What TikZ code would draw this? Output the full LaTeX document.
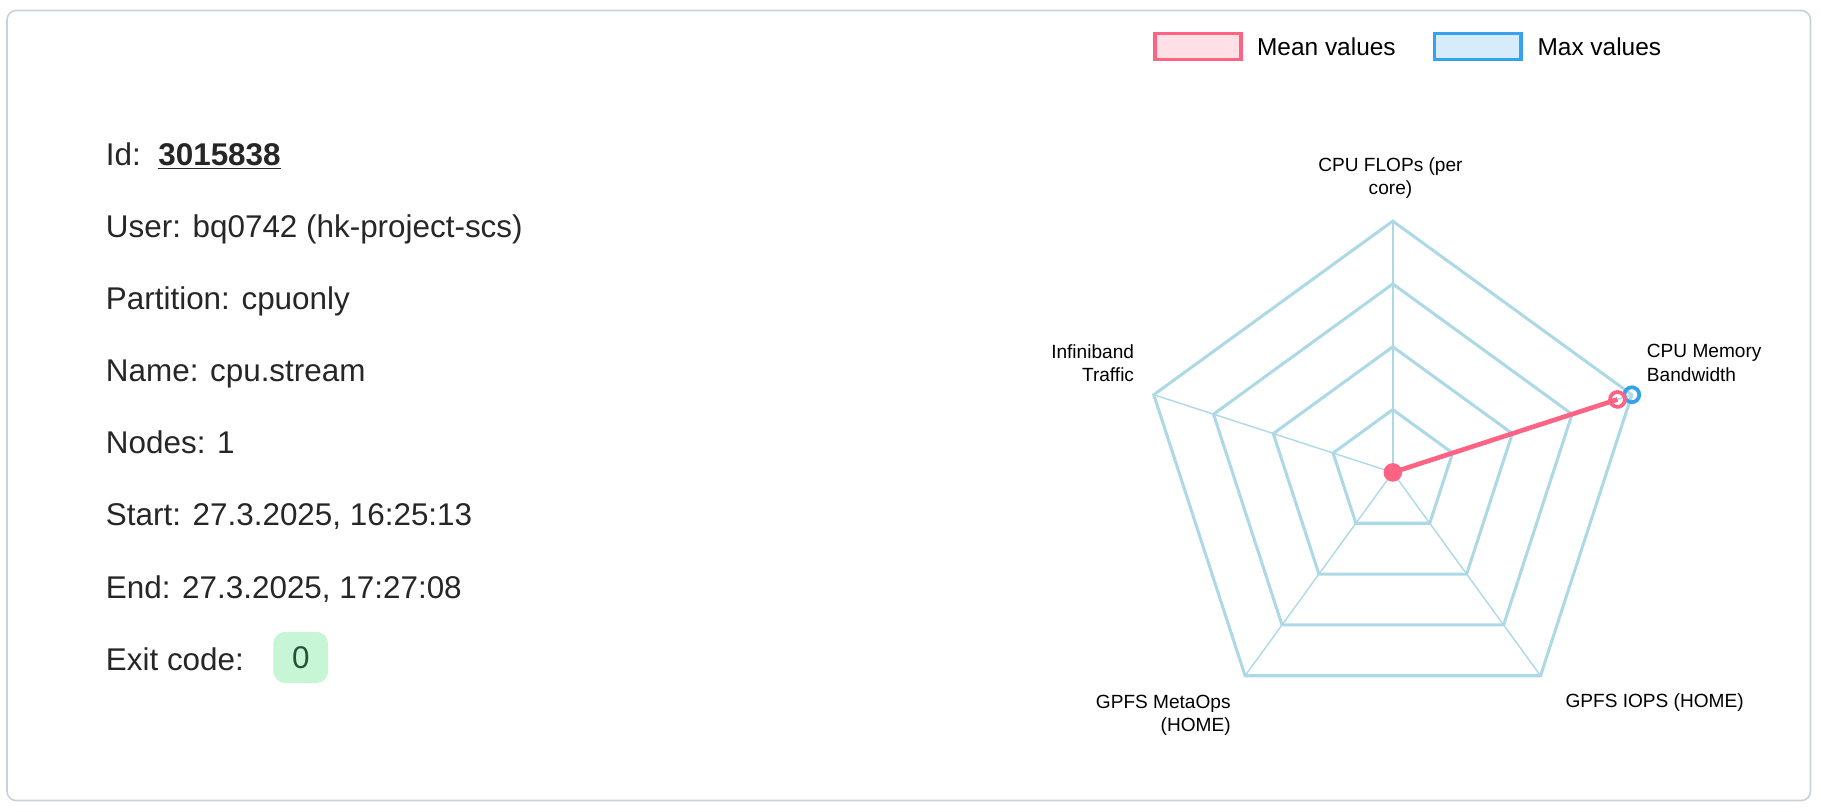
\documentclass[tikz,border=0pt]{standalone}
\usepackage{fontspec}
\setmainfont{Liberation Sans}
\begin{document}
\begin{tikzpicture}[x=0.5pt,y=-0.5pt,
  info/.style={anchor=base west,font=\fontsize{13.5}{16}\selectfont,text=black!85},
  lab/.style={font=\fontsize{8.2}{10}\selectfont,align=center,inner sep=0},
  grid/.style={draw=gridc,line width=1.3pt,line join=miter},
  spoke/.style={draw=gridc,line width=0.6pt}]
\definecolor{gridc}{HTML}{ADD8E6}
\definecolor{meanc}{HTML}{FF6384}
\definecolor{maxc}{HTML}{36A2EB}
\definecolor{framec}{HTML}{C8D2DC}
\definecolor{ec}{HTML}{C6F6D5}
\definecolor{et}{HTML}{22543D}
\useasboundingbox (0,0) rectangle (1565,697);
\draw[framec,line width=0.7pt,rounded corners=4pt] (6,9) rectangle (1556,688);
% left info
\node[info] (id) at (84,142) {Id:\ \ \textbf{\underline{3015838}}};
\node[info] (user) at (84,204) {User: bq0742 (hk-project-scs)};
\node[info] (part) at (84,266) {Partition: cpuonly};
\node[info] (name) at (84,328) {Name: cpu.stream};
\node[info] (nodes) at (84,390) {Nodes: 1};
\node[info] (start) at (84,452) {Start: 27.3.2025, 16:25:13};
\node[info] (end) at (84,514) {End: 27.3.2025, 17:27:08};
\node[info] (exit) at (84,576) {Exit code:};
\node[fill=ec,rounded corners=5pt,minimum width=23.5pt,minimum height=22pt,font=\fontsize{13.5}{16}\selectfont,text=et] (badge) at (258.5,565) {0};
% legend
\node[draw=meanc,fill=meanc!20,line width=1.5pt,minimum width=37pt,minimum height=11pt,inner sep=0] (lm) at (1029.5,40) {};
\node[anchor=west,font=\fontsize{10.5}{12}\selectfont,inner sep=0] (lmt) at (1080,40) {Mean values};
\node[draw=maxc,fill=maxc!20,line width=1.5pt,minimum width=37pt,minimum height=11pt,inner sep=0] (lx) at (1270,40) {};
\node[anchor=west,font=\fontsize{10.5}{12}\selectfont,inner sep=0] (lxt) at (1321,40) {Max values};
% radar
\coordinate (c) at (1197,406);
\begin{scope}[shift={(c)},y=0.5pt]
\foreach \r in {54,108,162,216}
  \draw[grid] (90:\r) -- (18:\r) -- (-54:\r) -- (-126:\r) -- (162:\r) -- cycle;
\foreach \a in {90,18,-54,-126,162}
  \draw[spoke] (0,0) -- (\a:216);
\coordinate (mean) at (18:203);
\coordinate (maxp) at (18:216);
\draw[meanc,line width=2pt] (0,0) -- (mean);
\fill[meanc] (0,0) circle (4pt);
\draw[maxc,line width=1.6pt] (maxp) circle (3.2pt);
\draw[meanc,line width=1.6pt] (mean) circle (3.2pt);
\end{scope}
\node[lab] (l1) at (1195,153) {CPU FLOPs (per\\core)};
\node[lab,anchor=west,align=left] (l2) at (1415,312) {CPU Memory\\Bandwidth};
\node[lab,anchor=east,align=right] (l5) at (975,312) {Infiniband\\Traffic};
\node[lab,anchor=east,align=right] (l4) at (1058,615) {GPFS MetaOps\\(HOME)};
\node[lab] (l3) at (1422,604) {GPFS IOPS (HOME)};
\end{tikzpicture}
\end{document}
